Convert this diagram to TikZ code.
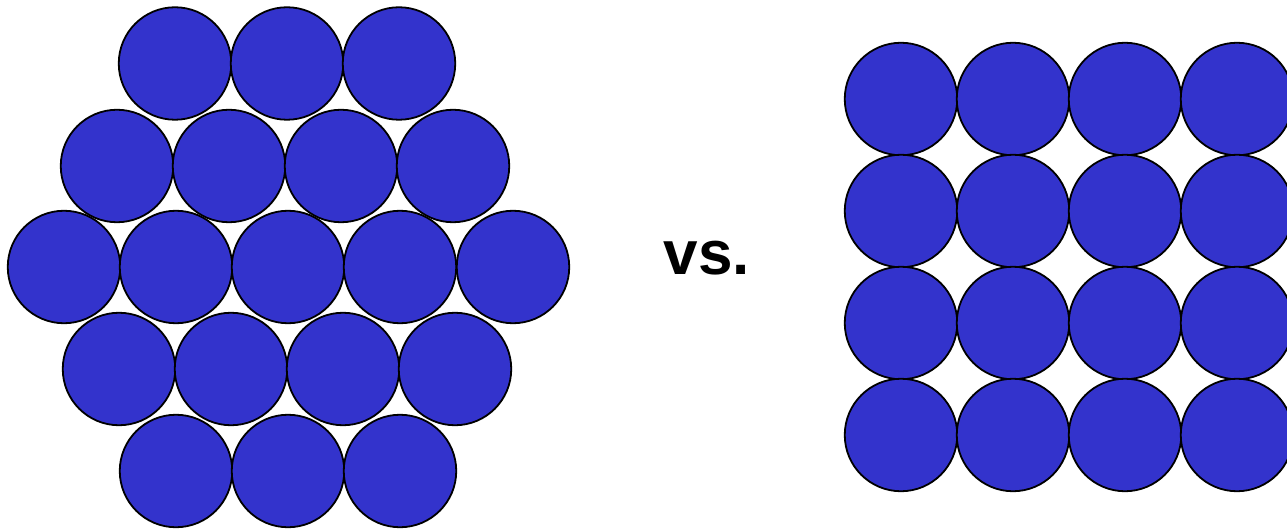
\documentclass[tikz,border=0pt]{standalone}
\usepackage{fontspec}
\setmainfont{Liberation Sans}
\definecolor{ballblue}{RGB}{51,51,204}
\begin{document}
\begin{tikzpicture}[x=1pt,y=-1pt,
  ball/.style={circle,draw=black,line width=1.8pt,fill=ballblue,minimum size=112.5pt,inner sep=0pt}]
\useasboundingbox (0,0) rectangle (1287,529);
\clip (0,0) rectangle (1287,529);
% hexagonal packing
\foreach \x [count=\i] in {175,287,399} \node[ball] (h1\i) at (\x,63.5) {};
\foreach \x [count=\i] in {117,229,341,453} \node[ball] (h2\i) at (\x,166) {};
\foreach \x [count=\i] in {64,176,288,400,513} \node[ball] (h3\i) at (\x,267) {};
\foreach \x [count=\i] in {119,231,343,455} \node[ball] (h4\i) at (\x,369) {};
\foreach \x [count=\i] in {176,288,400} \node[ball] (h5\i) at (\x,471) {};
% square packing
\foreach \y [count=\j] in {99,211,323,435}
  \foreach \x [count=\i] in {901,1013,1125,1237}
    \node[ball] (s\j\i) at (\x,\y) {};
\node[anchor=base,font=\fontsize{62}{62}\selectfont\bfseries,inner sep=0pt] (vs) at (707,275) {vs.};
\end{tikzpicture}
\end{document}
